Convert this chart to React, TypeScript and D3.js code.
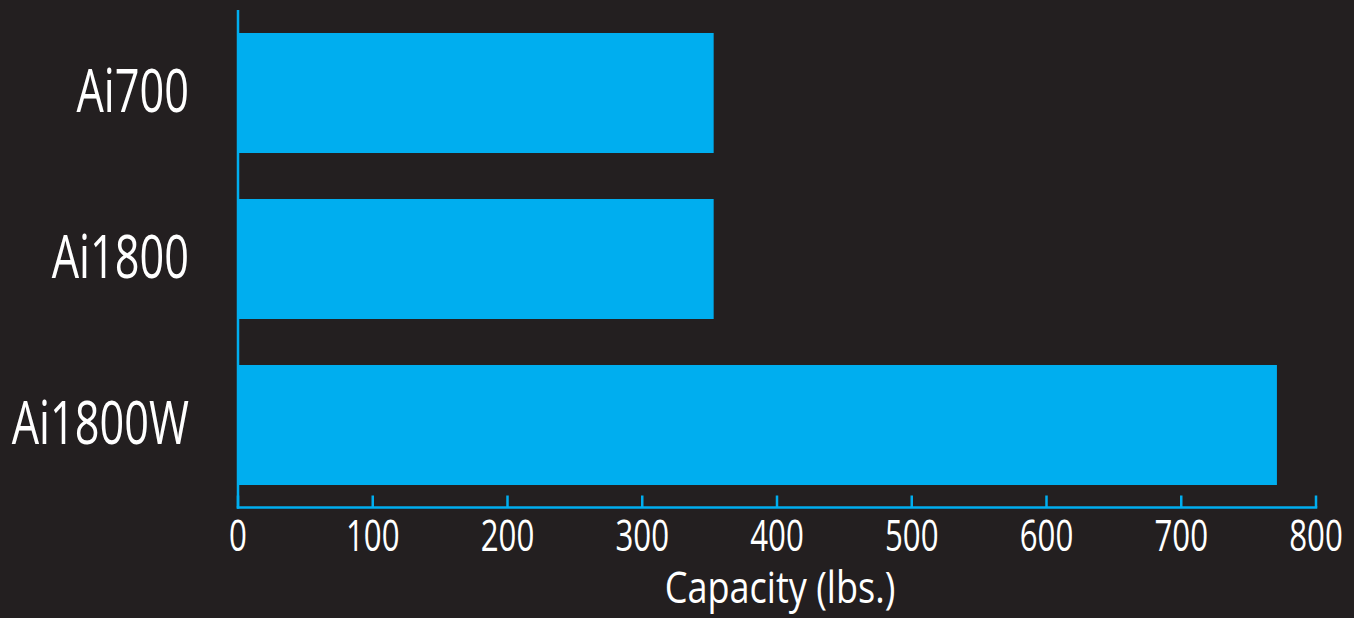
import React from "react";
import * as d3 from "d3";

const categories = ["Ai700", "Ai1800", "Ai1800W"];
const capacities = [353, 353, 771];
const xTicks = [0, 100, 200, 300, 400, 500, 600, 700, 800];
const xTitle = "Capacity (lbs.)";

const W = 1354;
const H = 618;
const BG = "#231f20";
const CYAN = "#00aeef";
const FONT = "'Open Sans', 'Noto Sans', sans-serif";

export default function App() {
  const x = d3.scaleLinear().domain([0, 800]).range([238, 1316]);
  const y = d3.scaleBand<string>().domain(categories).range([10, 508]).paddingInner(0.277).paddingOuter(0.1385);
  const axisY = 507.5;

  return (
    <svg
      width={W}
      height={H}
      style={{ position: "absolute", left: 0, top: 0, display: "block", background: BG }}
    >
      <rect x={0} y={0} width={W} height={H} fill={BG} />
      {categories.map((c, i) => (
        <rect
          key={c}
          x={x(0)}
          y={y(c)!}
          width={x(capacities[i]) - x(0)}
          height={y.bandwidth()}
          fill={CYAN}
        />
      ))}
      <line x1={x(0)} x2={x(0)} y1={10} y2={axisY + 1.25} stroke={CYAN} strokeWidth={2.5} />
      <line x1={x(0) - 1.25} x2={x(800) + 1.25} y1={axisY} y2={axisY} stroke={CYAN} strokeWidth={2.5} />
      {xTicks.map((t) => (
        <g key={t}>
          <line x1={x(t)} x2={x(t)} y1={axisY} y2={axisY - 12} stroke={CYAN} strokeWidth={2.5} />
          <text
            transform={`translate(${x(t)},551) scale(0.71,1)`}
            textAnchor="middle"
            fill="#ffffff"
            fontFamily={FONT}
            fontSize={44}
          >
            {t}
          </text>
        </g>
      ))}
      {categories.map((c) => (
        <text
          key={c}
          transform={`translate(189,${y(c)! + y.bandwidth() / 2 + 19}) scale(0.71,1)`}
          textAnchor="end"
          fill="#ffffff"
          fontFamily={FONT}
          fontSize={61}
        >
          {c}
        </text>
      ))}
      <text
        transform={`translate(${(x(0) + x(800)) / 2 + 3},603) scale(0.82,1)`}
        textAnchor="middle"
        fill="#ffffff"
        fontFamily={FONT}
        fontSize={44}
      >
        {xTitle}
      </text>
    </svg>
  );
}
